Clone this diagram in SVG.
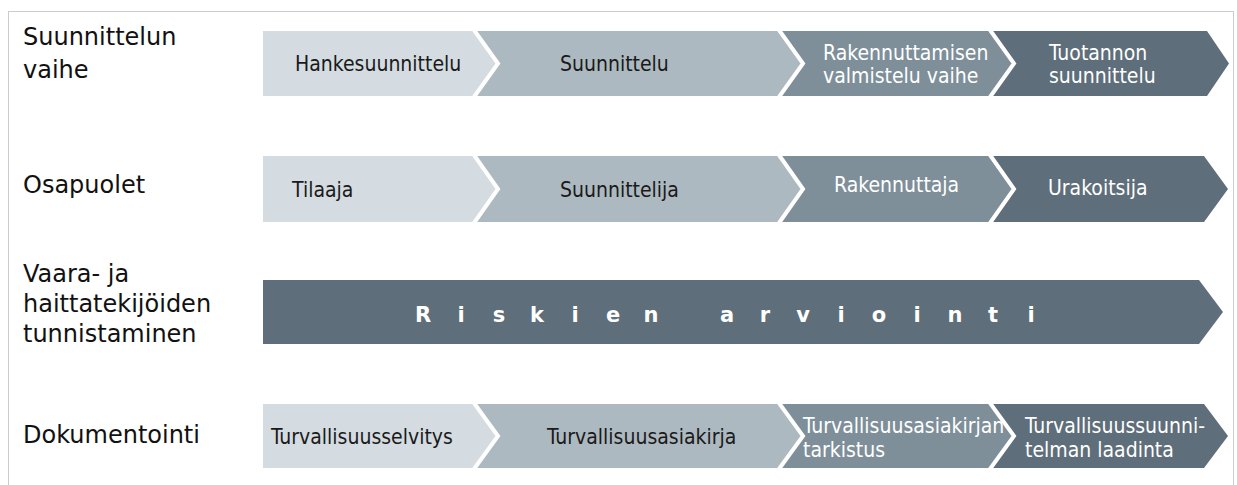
<svg xmlns="http://www.w3.org/2000/svg" width="1237" height="485" viewBox="0 0 1237 485">
  <style>
    .lbl { font-family: "DejaVu Sans", Verdana, sans-serif; font-size: 24px; fill: #111111; }
    .ct { font-family: "DejaVu Sans Condensed", "DejaVu Sans", sans-serif; font-stretch: condensed; font-size: 21px; }
    .dk { fill: #1a1a1a; }
    .wt { fill: #ffffff; }
    .c1 { fill: #d4dce1; }
    .c2 { fill: #adb9c0; }
    .c3 { fill: #7e8f9a; }
    .c4 { fill: #5e6e7a; }
    .sep { fill: none; stroke: #ffffff; stroke-width: 4; }
    .risk { font-family: "DejaVu Sans", Verdana, sans-serif; font-weight: bold; font-size: 21px; fill: #ffffff; text-anchor: middle; }
  </style>
  <rect x="0" y="0" width="1237" height="485" fill="#ffffff"/>
  <rect x="8.5" y="11.5" width="1225" height="480" fill="none" stroke="#cccccc" stroke-width="1"/>

  <g id="labels">
    <text class="lbl" x="23" y="45">Suunnittelun</text>
    <text class="lbl" x="23" y="78">vaihe</text>
    <text class="lbl" x="23" y="193">Osapuolet</text>
    <text class="lbl" x="23" y="282">Vaara- ja</text>
    <text class="lbl" x="23" y="312">haittatekijöiden</text>
    <text class="lbl" x="23" y="342">tunnistaminen</text>
    <text class="lbl" x="23" y="443">Dokumentointi</text>
  </g>

  <!-- Row 1 -->
  <g id="row1-hankesuunnittelu">
    <polygon class="c1" points="263,31 474,31 498,63.5 474,96 263,96"/>
    <text class="ct dk" x="295" y="71">Hankesuunnittelu</text>
  </g>
  <g id="row1-suunnittelu">
    <polygon class="c2" points="474,31 779,31 803,63.5 779,96 474,96 498,63.5"/>
    <text class="ct dk" x="560" y="71">Suunnittelu</text>
  </g>
  <g id="row1-rakennuttaminen">
    <polygon class="c3" points="779,31 990,31 1014,63.5 990,96 779,96 803,63.5"/>
    <text class="ct wt" x="823" y="60">Rakennuttamisen</text>
    <text class="ct wt" x="823" y="83">valmistelu vaihe</text>
  </g>
  <g id="row1-tuotanto">
    <polygon class="c4" points="990,31 1207,31 1229,63.5 1207,96 990,96 1014,63.5"/>
    <text class="ct wt" x="1049" y="60">Tuotannon</text>
    <text class="ct wt" x="1049" y="83">suunnittelu</text>
  </g>

  <!-- Row 2 -->
  <g id="row2-tilaaja">
    <polygon class="c1" points="263,156 474,156 498,189 474,222 263,222"/>
    <text class="ct dk" x="292" y="197">Tilaaja</text>
  </g>
  <g id="row2-suunnittelija">
    <polygon class="c2" points="474,156 779,156 803,189 779,222 474,222 498,189"/>
    <text class="ct dk" x="560" y="197">Suunnittelija</text>
  </g>
  <g id="row2-rakennuttaja">
    <polygon class="c3" points="779,156 990,156 1014,189 990,222 779,222 803,189"/>
    <text class="ct wt" x="834" y="192">Rakennuttaja</text>
  </g>
  <g id="row2-urakoitsija">
    <polygon class="c4" points="990,156 1204,156 1228,189 1204,222 990,222 1014,189"/>
    <text class="ct wt" x="1048" y="195">Urakoitsija</text>
  </g>

  <!-- Row 3 -->
  <g id="row3-riskien-arviointi">
    <polygon class="c4" points="263,280 1199,280 1223,312 1199,344 263,344"/>
    <text class="risk" x="423 461 499 537 575 613 651 727 765 803 841 879 917 955 993 1031" y="322">Riskienarviointi</text>
  </g>

  <!-- Row 4 -->
  <g id="row4-turvallisuusselvitys">
    <polygon class="c1" points="263,404 474,404 498,436 474,468 263,468"/>
    <text class="ct dk" x="271" y="444">Turvallisuusselvitys</text>
  </g>
  <g id="row4-turvallisuusasiakirja">
    <polygon class="c2" points="474,404 779,404 803,436 779,468 474,468 498,436"/>
    <text class="ct dk" x="547" y="444">Turvallisuusasiakirja</text>
  </g>
  <g id="row4-tarkistus">
    <polygon class="c3" points="779,404 990,404 1014,436 990,468 779,468 803,436"/>
  </g>
  <g id="row4-turvallisuussuunnitelma">
    <polygon class="c4" points="990,404 1204,404 1228,436 1204,468 990,468 1014,436"/>
  </g>

  <g id="connectors">
    <polyline class="sep" points="474,30 498,63.5 474,97"/>
    <polyline class="sep" points="779,30 803,63.5 779,97"/>
    <polyline class="sep" points="990,30 1014,63.5 990,97"/>
    <polyline class="sep" points="474,155 498,189 474,223"/>
    <polyline class="sep" points="779,155 803,189 779,223"/>
    <polyline class="sep" points="990,155 1014,189 990,223"/>
    <polyline class="sep" points="474,403 498,436 474,469"/>
    <polyline class="sep" points="779,403 803,436 779,469"/>
    <polyline class="sep" points="990,403 1014,436 990,469"/>
  </g>

  <g id="row4-texts">
    <text class="ct wt" x="803" y="433">Turvallisuusasiakirjan</text>
    <text class="ct wt" x="803" y="457">tarkistus</text>
    <text class="ct wt" x="1025" y="433">Turvallisuussuunni-</text>
    <text class="ct wt" x="1025" y="457">telman laadinta</text>
  </g>
</svg>
